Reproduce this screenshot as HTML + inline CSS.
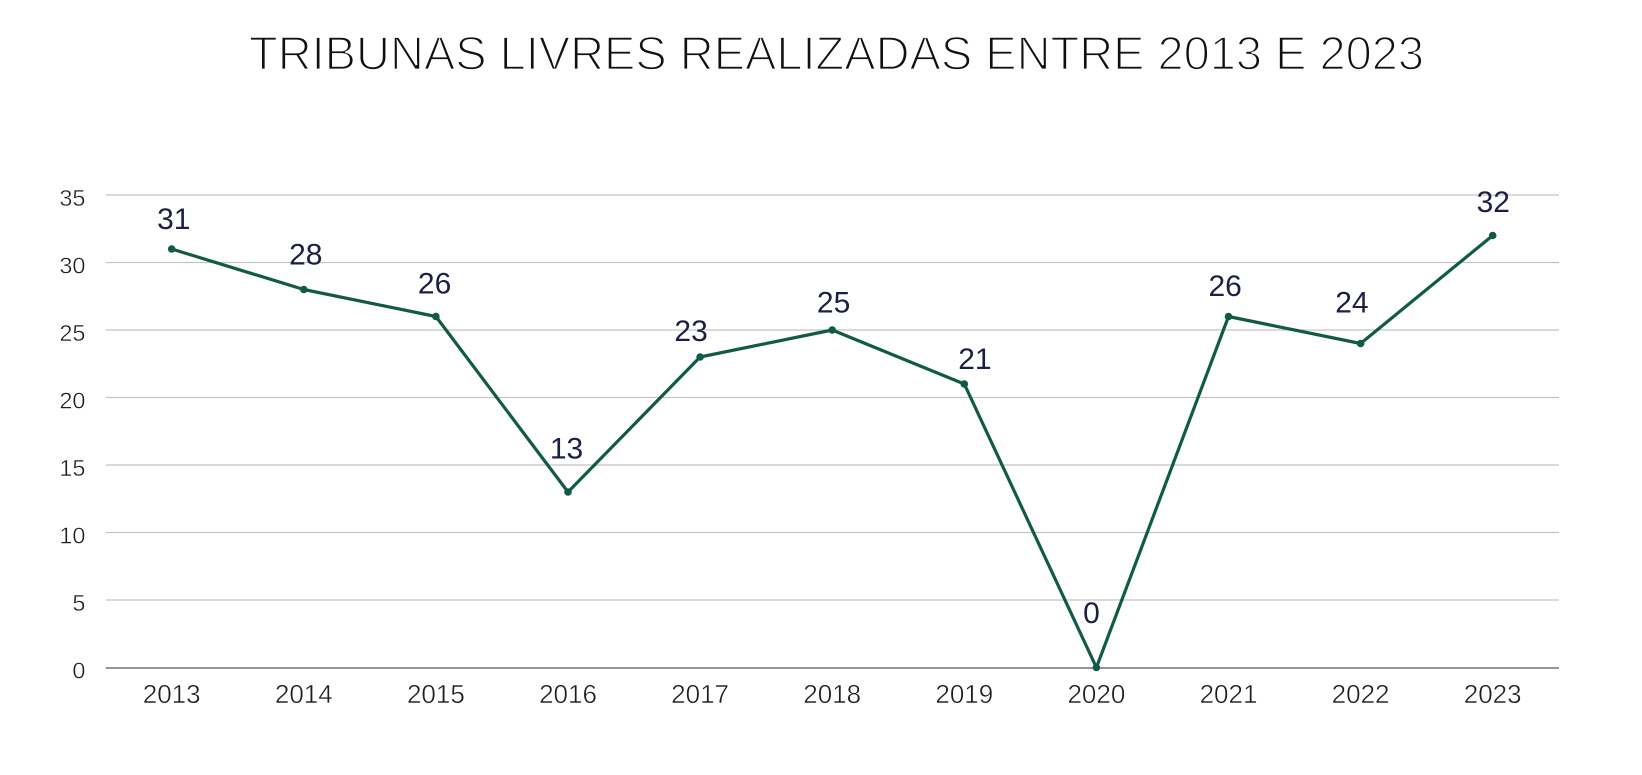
<!DOCTYPE html>
<html>
<head>
<meta charset="utf-8">
<style>
  html, body { margin: 0; padding: 0; background: #ffffff; }
  body { width: 1642px; height: 775px; overflow: hidden; }
  svg { display: block; }
  .title { font-family: "Liberation Sans", sans-serif; font-size: 47px; fill: #111111; stroke: #ffffff; stroke-width: 1.7px; paint-order: fill stroke; }
  .ylab { font-family: "Liberation Sans", sans-serif; font-size: 23.5px; fill: #1e1e1e; text-anchor: end; stroke: #ffffff; stroke-width: 0.45px; paint-order: fill stroke; }
  .xlab { font-family: "Liberation Sans", sans-serif; font-size: 26px; fill: #1e1e1e; text-anchor: middle; stroke: #ffffff; stroke-width: 0.45px; paint-order: fill stroke; }
  .dlab { font-family: "Liberation Sans", sans-serif; font-size: 30px; fill: #1b1f45; text-anchor: middle; }
</style>
</head>
<body>
<svg width="1642" height="775" viewBox="0 0 1642 775" xmlns="http://www.w3.org/2000/svg">
  <rect width="1642" height="775" fill="#ffffff"/>
  <text class="title" x="249" y="69.5" textLength="1175" lengthAdjust="spacingAndGlyphs">TRIBUNAS LIVRES REALIZADAS ENTRE 2013 E 2023</text>

  <!-- gridlines -->
  <g stroke="#c4c4c4" stroke-width="1.3">
    <line x1="105.7" y1="195" x2="1559" y2="195"/>
    <line x1="105.7" y1="262.5" x2="1559" y2="262.5"/>
    <line x1="105.7" y1="330" x2="1559" y2="330"/>
    <line x1="105.7" y1="397.5" x2="1559" y2="397.5"/>
    <line x1="105.7" y1="465" x2="1559" y2="465"/>
    <line x1="105.7" y1="532.5" x2="1559" y2="532.5"/>
    <line x1="105.7" y1="600" x2="1559" y2="600"/>
  </g>
  <line x1="105.7" y1="668" x2="1559" y2="668" stroke="#707070" stroke-width="1.4"/>

  <!-- y labels -->
  <text class="ylab" x="85.5" y="206">35</text>
  <text class="ylab" x="85.5" y="273.5">30</text>
  <text class="ylab" x="85.5" y="341">25</text>
  <text class="ylab" x="85.5" y="408.5">20</text>
  <text class="ylab" x="85.5" y="476">15</text>
  <text class="ylab" x="85.5" y="543.5">10</text>
  <text class="ylab" x="85.5" y="611">5</text>
  <text class="ylab" x="85.5" y="678.5">0</text>

  <!-- x labels -->
  <text class="xlab" x="171.7" y="703">2013</text>
  <text class="xlab" x="303.8" y="703">2014</text>
  <text class="xlab" x="435.9" y="703">2015</text>
  <text class="xlab" x="568.0" y="703">2016</text>
  <text class="xlab" x="700.1" y="703">2017</text>
  <text class="xlab" x="832.2" y="703">2018</text>
  <text class="xlab" x="964.3" y="703">2019</text>
  <text class="xlab" x="1096.4" y="703">2020</text>
  <text class="xlab" x="1228.5" y="703">2021</text>
  <text class="xlab" x="1360.6" y="703">2022</text>
  <text class="xlab" x="1492.7" y="703">2023</text>

  <!-- series -->
  <polyline fill="none" stroke="#115a48" stroke-width="3.2" stroke-linejoin="round" stroke-linecap="round"
    points="171.7,249 303.8,289.5 435.9,316.5 568.0,492 700.1,357 832.2,330 964.3,384 1096.4,667.5 1228.5,316.5 1360.6,343.5 1492.7,235.5"/>
  <g fill="#115a48">
    <circle cx="171.7" cy="249" r="3.8"/>
    <circle cx="303.8" cy="289.5" r="3.8"/>
    <circle cx="435.9" cy="316.5" r="3.8"/>
    <circle cx="568.0" cy="492" r="3.8"/>
    <circle cx="700.1" cy="357" r="3.8"/>
    <circle cx="832.2" cy="330" r="3.8"/>
    <circle cx="964.3" cy="384" r="3.8"/>
    <circle cx="1096.4" cy="667.5" r="3.8"/>
    <circle cx="1228.5" cy="316.5" r="3.8"/>
    <circle cx="1360.6" cy="343.5" r="3.8"/>
    <circle cx="1492.7" cy="235.5" r="3.8"/>
  </g>

  <!-- data labels -->
  <text class="dlab" x="173.8" y="228.8">31</text>
  <text class="dlab" x="305.8" y="264.4">28</text>
  <text class="dlab" x="434.6" y="293.7">26</text>
  <text class="dlab" x="566.5" y="458.5">13</text>
  <text class="dlab" x="691.1" y="340.9">23</text>
  <text class="dlab" x="833.6" y="312.6">25</text>
  <text class="dlab" x="974.9" y="369.1">21</text>
  <text class="dlab" x="1091.5" y="623.2">0</text>
  <text class="dlab" x="1225.2" y="295.8">26</text>
  <text class="dlab" x="1351.9" y="312.6">24</text>
  <text class="dlab" x="1493.3" y="212.1">32</text>
</svg>
</body>
</html>
